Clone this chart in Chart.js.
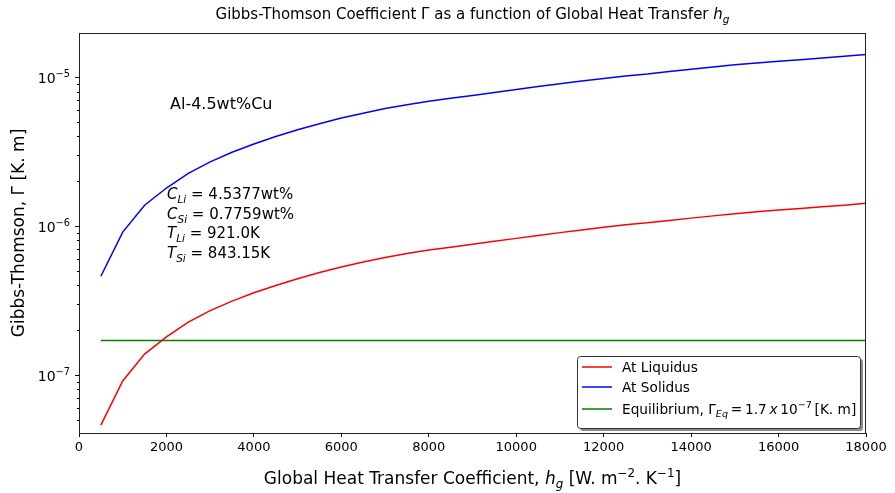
<!DOCTYPE html>
<html>
<head>
<meta charset="utf-8">
<script src="https://cdn.jsdelivr.net/npm/chart.js@4/dist/chart.umd.min.js"></script>
<style>
  body { margin: 0; background: #fff; }
  canvas { display: block; }
</style>
</head>
<body>
<canvas id="gibbsChart" width="895" height="493"></canvas>
<script>
// heat transfer coefficient values (W m^-2 K^-1)
const hg = [500, 1000, 1500, 2000, 2500, 3000, 3500, 4000, 4500, 5000, 5500, 6000,
    6500, 7000, 7500, 8000, 8500, 9000, 9500, 10000, 10500, 11000, 11500, 12000,
    12500, 13000, 13500, 14000, 14500, 15000, 15500, 16000, 16500, 17000, 17500, 18000];

// Gibbs-Thomson coefficient at liquidus (K.m)
const liquidus = [4.6e-8, 9.1e-8, 1.38e-7, 1.80e-7, 2.26e-7, 2.70e-7, 3.13e-7, 3.56e-7,
    3.99e-7, 4.43e-7, 4.87e-7, 5.31e-7, 5.73e-7, 6.15e-7, 6.53e-7, 6.89e-7, 7.21e-7,
    7.53e-7, 7.90e-7, 8.26e-7, 8.65e-7, 9.03e-7, 9.42e-7, 9.80e-7, 1.02e-6, 1.05e-6,
    1.09e-6, 1.13e-6, 1.17e-6, 1.21e-6, 1.245e-6, 1.28e-6, 1.31e-6, 1.345e-6, 1.38e-6, 1.42e-6];

// Gibbs-Thomson coefficient at solidus (K.m)
const solidus = [4.6e-7, 9.1e-7, 1.38e-6, 1.80e-6, 2.26e-6, 2.70e-6, 3.13e-6, 3.56e-6,
    3.99e-6, 4.43e-6, 4.87e-6, 5.31e-6, 5.73e-6, 6.15e-6, 6.53e-6, 6.89e-6, 7.21e-6,
    7.53e-6, 7.90e-6, 8.26e-6, 8.65e-6, 9.03e-6, 9.42e-6, 9.80e-6, 1.02e-5, 1.05e-5,
    1.09e-5, 1.13e-5, 1.17e-5, 1.21e-5, 1.245e-5, 1.28e-5, 1.31e-5, 1.345e-5, 1.38e-5, 1.42e-5];

// equilibrium value, flat line
const eqHg = [500, 18000];
const eqGamma = [1.7e-7, 1.7e-7];

const xTicks = [0, 2000, 4000, 6000, 8000, 10000, 12000, 14000, 16000, 18000];
const yDecades = [-8, -7, -6, -5];
const seriesNames = ['At Liquidus', 'At Solidus', 'Equilibrium'];

const FONT = "'DejaVu Sans', 'Liberation Sans', sans-serif";

function toPoints(xs, ys) {
    return xs.map((x, i) => ({ x: x, y: ys[i] }));
}

// rich text: parts are [text, style] with style n | i | sub | isub | sup
function fontFor(style, size) {
    const small = (style === 'sub' || style === 'isub' || style === 'sup');
    const italic = (style === 'i' || style === 'isub');
    const s = small ? size * 0.7 : size;
    return (italic ? 'italic ' : '') + s + 'px ' + FONT;
}

function richWidth(ctx, parts, size) {
    let w = 0;
    parts.forEach(p => {
        ctx.font = fontFor(p[1], size);
        w += ctx.measureText(p[0]).width;
    });
    return w;
}

function drawRich(ctx, parts, x, y, size, align) {
    const w = richWidth(ctx, parts, size);
    let cx = x;
    if (align === 'center') cx = x - w / 2;
    if (align === 'right') cx = x - w;
    ctx.textAlign = 'left';
    ctx.textBaseline = 'alphabetic';
    parts.forEach(p => {
        ctx.font = fontFor(p[1], size);
        let dy = 0;
        if (p[1] === 'sub' || p[1] === 'isub') dy = size * 0.25;
        if (p[1] === 'sup') dy = -size * 0.42;
        ctx.fillText(p[0], cx, y + dy);
        cx += ctx.measureText(p[0]).width;
    });
}

function isPow10(v) {
    const e = Math.log10(v);
    return Math.abs(e - Math.round(e)) < 1e-6;
}

const extrasPlugin = {
    id: 'extras',
    afterDraw(chart) {
        const ctx = chart.ctx;
        const a = chart.chartArea;
        ctx.save();

        // frame on all four sides
        ctx.strokeStyle = '#222';
        ctx.lineWidth = 1;
        ctx.strokeRect(a.left + 0.5, a.top + 0.5, a.right - a.left - 1, a.bottom - a.top);

        // y ticks (major + minor) and 10^n labels
        const ys = chart.scales.y;
        ys.ticks.forEach(t => {
            const py = Math.round(ys.getPixelForValue(t.value)) + 0.5;
            const len = isPow10(t.value) ? 4 : 2;
            ctx.strokeStyle = '#000';
            ctx.lineWidth = 1;
            ctx.beginPath();
            ctx.moveTo(a.left, py);
            ctx.lineTo(a.left - len, py);
            ctx.stroke();
            if (isPow10(t.value)) {
                ctx.fillStyle = '#000';
                const e = Math.round(Math.log10(t.value));
                drawRich(ctx, [['10', 'n'], ['\u2212' + Math.abs(e), 'sup']], a.left - 9, py + 5, 14, 'right');
            }
        });

        ctx.fillStyle = '#000';
        // title
        drawRich(ctx, [['Gibbs-Thomson Coefficient \u0393 as a function of Global Heat Transfer ', 'n'],
            ['h', 'i'], ['g', 'isub']], (a.left + a.right) / 2, 19, 15, 'center');

        // x axis title
        drawRich(ctx, [['Global Heat Transfer Coefficient, ', 'n'], ['h', 'i'], ['g', 'isub'],
            [' [W. m', 'n'], ['\u22122', 'sup'], ['. K', 'n'], ['\u22121', 'sup'], [']', 'n']],
            (a.left + a.right) / 2, 484, 17, 'center');

        // y axis title
        ctx.save();
        ctx.translate(24, (a.top + a.bottom) / 2);
        ctx.rotate(-Math.PI / 2);
        drawRich(ctx, [['Gibbs-Thomson, \u0393 [K. m]', 'n']], 0, 0, 17, 'center');
        ctx.restore();

        // annotations
        drawRich(ctx, [['Al-4.5wt%Cu', 'n']], 170, 109, 16, 'left');
        drawRich(ctx, [['C', 'i'], ['Li', 'isub'], [' = 4.5377wt%', 'n']], 167, 199, 15, 'left');
        drawRich(ctx, [['C', 'i'], ['Si', 'isub'], [' = 0.7759wt%', 'n']], 167, 219, 15, 'left');
        drawRich(ctx, [['T', 'i'], ['Li', 'isub'], [' = 921.0K', 'n']], 167, 238, 15, 'left');
        drawRich(ctx, [['T', 'i'], ['Si', 'isub'], [' = 843.15K', 'n']], 167, 258, 15, 'left');

        // legend box with shadow, lower right
        const bw = 283, bh = 72;
        const bx = a.right - 6 - bw, by = a.bottom - 5 - bh;
        ctx.fillStyle = 'rgba(0,0,0,0.45)';
        ctx.beginPath();
        ctx.roundRect(bx + 3, by + 3, bw, bh, 3);
        ctx.fill();
        ctx.fillStyle = '#fff';
        ctx.strokeStyle = '#333';
        ctx.beginPath();
        ctx.roundRect(bx + 0.5, by + 0.5, bw, bh, 3);
        ctx.fill();
        ctx.stroke();

        const rows = [
            [[seriesNames[0], 'n']],
            [[seriesNames[1], 'n']],
            [[seriesNames[2] + ', \u0393', 'n'], ['Eq', 'isub'], ['\u2009=\u20091.7\u2009', 'n'], ['x', 'i'],
                ['\u200910', 'n'], ['\u22127', 'sup'], ['\u2009[K. m]', 'n']]
        ];
        const rowY = [by + 11, by + 31, by + 53];
        rows.forEach((parts, i) => {
            const ds = chart.data.datasets[i];
            ctx.strokeStyle = ds.borderColor;
            ctx.lineWidth = 1.5;
            ctx.beginPath();
            ctx.moveTo(bx + 5, rowY[i]);
            ctx.lineTo(bx + 35, rowY[i]);
            ctx.stroke();
            ctx.fillStyle = '#000';
            drawRich(ctx, parts, bx + 45, rowY[i] + 5, 13.7, 'left');
        });

        ctx.restore();
    }
};

function createChart() {
    const ctx = document.getElementById('gibbsChart').getContext('2d');
    new Chart(ctx, {
        type: 'line',
        data: {
            datasets: [{
                label: seriesNames[0],
                data: toPoints(hg, liquidus),
                borderColor: '#ff0000'
            }, {
                label: seriesNames[1],
                data: toPoints(hg, solidus),
                borderColor: '#0000ff'
            }, {
                label: seriesNames[2],
                data: toPoints(eqHg, eqGamma),
                borderColor: '#008000'
            }]
        },
        options: {
            responsive: false,
            animation: false,
            devicePixelRatio: 1,
            elements: {
                line: { borderWidth: 1.5, tension: 0, fill: false },
                point: { radius: 0 }
            },
            layout: { padding: { left: 0, top: 33, right: 29, bottom: 0 } },
            plugins: {
                legend: { display: false },
                title: { display: false },
                tooltip: { enabled: false }
            },
            scales: {
                x: {
                    type: 'linear',
                    min: 0,
                    max: 18000,
                    afterBuildTicks: scale => {
                        scale.ticks = xTicks.map(v => ({ value: v }));
                    },
                    afterFit: scale => { scale.height = 60; },
                    ticks: {
                        color: '#000',
                        font: { family: FONT, size: 13 },
                        padding: 3,
                        maxRotation: 0,
                        autoSkip: false,
                        callback: v => String(v)
                    },
                    grid: { drawOnChartArea: false, tickLength: 4, color: '#000' },
                    border: { color: '#222' }
                },
                y: {
                    type: 'logarithmic',
                    min: 4.07e-8,
                    max: 1.98e-5,
                    // major and minor ticks 1..9 in each decade
                    afterBuildTicks: scale => {
                        const t = [];
                        yDecades.forEach(e => {
                            for (let s = 1; s <= 9; s++) {
                                const v = s * Math.pow(10, e);
                                if (v >= scale.min && v <= scale.max) t.push({ value: v, major: s === 1 });
                            }
                        });
                        scale.ticks = t;
                    },
                    afterFit: scale => { scale.width = 79; },
                    ticks: {
                        autoSkip: false,
                        callback: () => ''
                    },
                    grid: { display: false },
                    border: { display: true, color: '#222' }
                }
            }
        },
        plugins: [extrasPlugin]
    });
}

window.onload = createChart;
</script>
</body>
</html>
